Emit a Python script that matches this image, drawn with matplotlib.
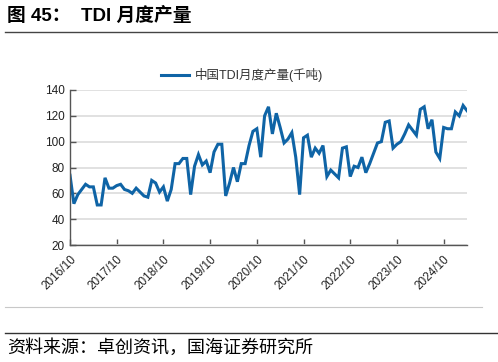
import numpy as np
import matplotlib.pyplot as plt
from matplotlib.lines import Line2D

plt.rcParams['font.family'] = ['Liberation Sans', 'Noto Sans CJK SC', 'DejaVu Sans']

# monthly TDI output, 2016/10 .. 2025/4 (thousand tonnes)
output = [
    74, 52, 59, 63, 67, 65, 65, 51, 51, 72, 64, 64,
    66, 67, 63, 62, 60, 64, 61, 58, 57, 70, 68, 61,
    65, 54, 63, 83, 83, 87, 87, 59, 81, 90, 82, 85,
    76, 92, 98, 98, 58, 68, 80, 69, 83, 83, 97, 108,
    110, 88, 120, 127, 106, 122, 111, 99, 102, 107, 88, 59,
    103, 105, 88, 95, 91, 97, 73, 78, 75, 72, 95, 96,
    73, 81, 80, 88, 76, 83, 91, 99, 100, 115, 116, 95,
    98, 100, 106, 113, 109, 105, 125, 127, 110, 117, 92, 87,
    111, 110, 110, 123, 120, 128, 124,
]
tick_labels = ['2016/10', '2017/10', '2018/10', '2019/10', '2020/10',
               '2021/10', '2022/10', '2023/10', '2024/10']
series_name = '中国TDI月度产量(千吨)'
title = '图 45：  TDI 月度产量'
source = '资料来源：卓创资讯，国海证券研究所'

line_color = '#0f64a6'

fig = plt.figure(figsize=(4.98, 3.62), dpi=100)
ax = fig.add_axes([70 / 498, 1 - 245 / 362, 397 / 498, 155 / 362])

x = np.arange(len(output))
ax.plot(x, output, color=line_color, lw=2.2, solid_joinstyle='miter')

ax.set_xlim(0, len(output) - 1)
ax.set_ylim(20, 140)
ax.set_yticks(np.arange(20, 141, 20))
ax.set_xticks(np.arange(len(tick_labels)) * 12)
ax.set_xticklabels(tick_labels, rotation=45, ha='right', rotation_mode='anchor')
ax.grid(axis='y', color='#dedede', lw=1.3)
ax.set_axisbelow(True)
for s in ['top', 'right']:
    ax.spines[s].set_visible(False)
for s in ['left', 'bottom']:
    ax.spines[s].set_color('#555555')
    ax.spines[s].set_linewidth(1.0)
ax.tick_params(direction='in', length=4, width=1, color='#555555',
               labelsize=8.5, labelcolor='#222222', pad=4)
ax.tick_params(axis='x', pad=6)

handle = Line2D([], [], color=line_color, lw=2.2)
fig.legend([handle], [series_name], loc='center', frameon=False,
           bbox_to_anchor=(242 / 498, 1 - 75 / 362), fontsize=9,
           handlelength=2.2, handletextpad=0.5, labelcolor='#333333')

fig.text(7 / 498, 1 - 16 / 362, title, fontsize=13.5, fontweight='bold',
         va='center', ha='left')
fig.add_artist(Line2D([0.01, 1.0], [1 - 32 / 362] * 2, color='#444444', lw=1.0))
fig.add_artist(Line2D([5 / 498, 482 / 498], [1 - 307 / 362] * 2, color='#c8c8c8', lw=0.8))
fig.add_artist(Line2D([0.01, 1.0], [1 - 333 / 362] * 2, color='#333333', lw=1.0))
fig.text(7 / 498, 1 - 348 / 362, source, fontsize=13, va='center', ha='left')

fig.savefig('out.png', dpi=100)
